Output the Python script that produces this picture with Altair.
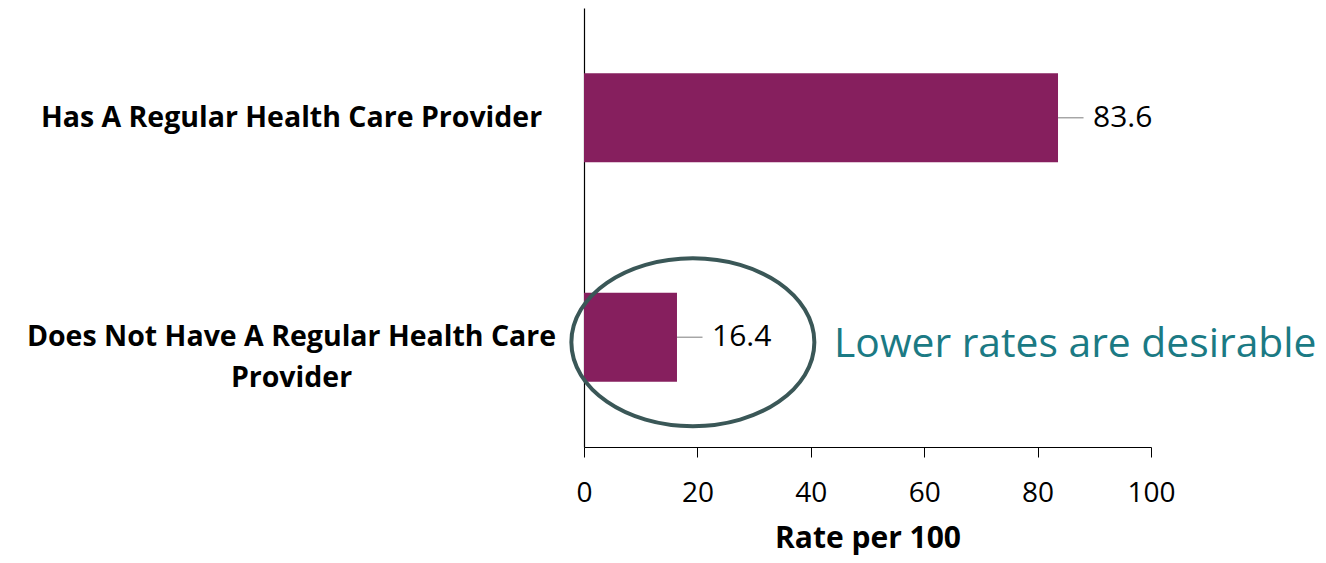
import altair as alt
import pandas as pd

categories = ["Has A Regular Health Care Provider",
              "Does Not Have A Regular Health Care Provider"]
rates = [83.6, 16.4]
x_ticks = [0, 20, 40, 60, 80, 100]
note_text = ["Lower rates are desirable"]
note_x = [44.1]
circle_x = [19.2]

df = pd.DataFrame({"category": categories, "rate": rates})
df["label"] = df["rate"].map(lambda v: f"{v:.1f}")

note_df = pd.DataFrame({"category": [categories[1]], "x": note_x, "text": note_text})
circle_df = pd.DataFrame({"category": [categories[1]], "x": circle_x})

FONT = "Open Sans"
label_expr = ("datum.value == 'Does Not Have A Regular Health Care Provider' ? "
              "['Does Not Have A Regular Health Care', 'Provider'] : datum.value")

y_enc = alt.Y(
    "category:N", sort=categories,
    scale=alt.Scale(domain=categories, paddingInner=0.5945, paddingOuter=0.297),
    axis=alt.Axis(title=None, ticks=False, domainColor="black", domainWidth=1.2,
                  labelFont=FONT, labelFontWeight="bold", labelFontSize=28.5,
                  labelColor="black", labelAlign="center", labelPadding=293,
                  labelLimit=700, labelLineHeight=41, labelExpr=label_expr),
)
x_scale = alt.Scale(domain=[0, 100])
x_axis = alt.Axis(values=x_ticks, title="Rate per 100", grid=False, tickSize=10,
                  tickColor="black", domainColor="black", domainWidth=1.2,
                  labelFontSize=28, labelFont=FONT, labelColor="black",
                  labelPadding=22, labelFlush=False, titleFontSize=30,
                  titleFont=FONT, titleFontWeight="bold", titlePadding=16,
                  titleColor="black")

base = alt.Chart(df)
bars = base.mark_bar(color="#861F5E").encode(
    x=alt.X("rate:Q", scale=x_scale, axis=x_axis), y=y_enc)
leaders = base.transform_calculate(x2="datum.rate + 4.5").mark_rule(
    color="#A6A6A6", strokeWidth=1.5).encode(
    x=alt.X("rate:Q", scale=x_scale), x2="x2:Q", y=y_enc)
labels = base.mark_text(align="left", baseline="middle", dx=35, font=FONT,
                        fontSize=30, color="black").encode(
    x=alt.X("rate:Q", scale=x_scale), y=y_enc, text="label:N")

ellipse_path = ("M -1 0.041 A 1 0.691 0 1 0 1 0.041 "
                "A 1 0.691 0 1 0 -1 0.041 Z")
circle = alt.Chart(circle_df).mark_point(
    shape=ellipse_path, size=59049, filled=False, stroke="#3A5757",
    strokeWidth=4, opacity=1).encode(
    x=alt.X("x:Q", scale=x_scale), y=y_enc)

note = alt.Chart(note_df).mark_text(
    align="left", baseline="middle", dy=8, font=FONT, fontSize=40.8,
    color="#1B7A84").encode(
    x=alt.X("x:Q", scale=x_scale), y=y_enc, text="text:N")

chart = alt.layer(bars, leaders, labels, circle, note).properties(
    width=567, height=439, autosize="none",
    padding={"left": 576, "top": 0, "right": 167, "bottom": 108},
).configure_view(stroke=None)

chart.save("out.html", embed_options={"renderer": "svg", "actions": False})
